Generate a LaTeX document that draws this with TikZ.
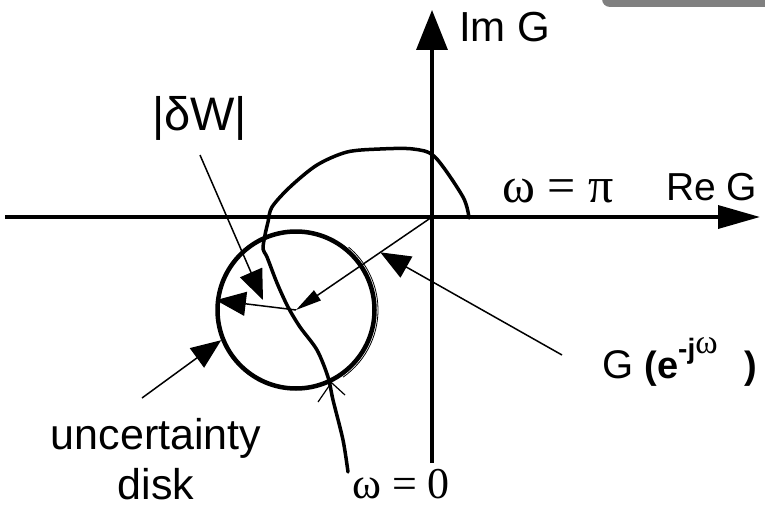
\documentclass[tikz,border=0pt]{standalone}
\usepackage{fontspec}
\setmainfont{Liberation Sans}
\newfontfamily\serifgr{Liberation Serif}
\usetikzlibrary{arrows.meta,calc}

\begin{document}
\begin{tikzpicture}[x=1pt, y=1pt,
        ax/.style={line width=3.5pt},
        nyq/.style={line width=3.5pt, line cap=round, line join=round},
        udisk/.style={circle, draw, line width=4.5pt, minimum size=157pt, inner sep=0pt},
        txt/.style={anchor=base west, inner sep=0pt},
        line/.style={-{Triangle[length=30pt,width=24pt]}, line width=1.5pt}]
    \useasboundingbox (0,0) rectangle (765,507);
    \fill[black!50, rounded corners=8pt] (602,500) rectangle (795,540);
    \coordinate (o) at (432,290);
    \coordinate (xl) at (5,290);
    \coordinate (xr) at (760,290);
    \coordinate (yb) at (432,44);
    \coordinate (yt) at (432,497);
    \draw[ax, -{Triangle[length=42pt,width=23pt]}] (xl) -- (xr);
    \draw[ax, -{Triangle[length=40pt,width=31pt]}] (yb) -- (yt);
    \node[udisk] (ud) at (296,197) {};
    \draw[line width=0.8pt] ($(ud.center)+(-55:82pt)$) arc[start angle=-55, end angle=50, radius=82pt];
    \draw[nyq] plot[smooth, tension=0.5] coordinates {(348,35) (343,67) (333,107) (328,130)
        (317,157) (300,180) (288,200) (277,224) (267,250) (263,258) (265,272) (268,285)
        (272,300) (290,320) (317,342) (347,355) (380,358) (413,358) (435,350) (463,310) (469,289)};
    \node[txt, font=\fontsize{42}{46}\selectfont] (im) at (459,465) {Im G};
    \node[txt, font=\fontsize{39}{42}\selectfont] (re) at (666,307) {Re G};
    \node[txt, font=\serifgr\fontsize{50}{54}\selectfont] (wpi) at (502,305) {ω = π};
    \node[txt, font=\serifgr\fontsize{44}{48}\selectfont] (wzero) at (352,9) {ω = 0};
    \node[txt, font=\fontsize{47}{50}\selectfont] (dw) at (152,377) {|δW|};
    \node[font=\fontsize{43}{50}\selectfont, align=center, anchor=south, inner sep=0pt] (unc) at (156,7) {uncertainty\\disk};
    \node[txt] (gl) at (602,129) {\fontsize{40}{44}\selectfont G {\fontsize{38}{40}\selectfont\bfseries(e}\raisebox{20pt}{\fontsize{28}{30}\selectfont\bfseries -j}\raisebox{25pt}{\fontsize{34}{36}\selectfont\serifgr ω}\hspace{27pt}{\fontsize{38}{40}\selectfont\bfseries )}};
    \coordinate (dwtail) at (200,352);
    \coordinate (dwtip) at (263,207);
    \coordinate (gtail) at (562,152);
    \coordinate (utail) at (142,109);
    \coordinate (vl) at (318,105);
    \coordinate (vr) at (345,112);
    \path (o) -- (ud.center) coordinate[pos=0.38] (gpt);
    \draw[line, -{Triangle[length=26pt,width=12pt]}] (o) -- (ud.center);
    \draw[line] (ud.center) -- (ud.173);
    \draw[line] (dwtail) -- (dwtip);
    \draw[line] (gtail) -- (gpt);
    \draw[line] (utail) -- (ud.202);
    \draw[line width=1.2pt] (vl) -- (ud.296) -- (vr);
\end{tikzpicture}
\end{document}
